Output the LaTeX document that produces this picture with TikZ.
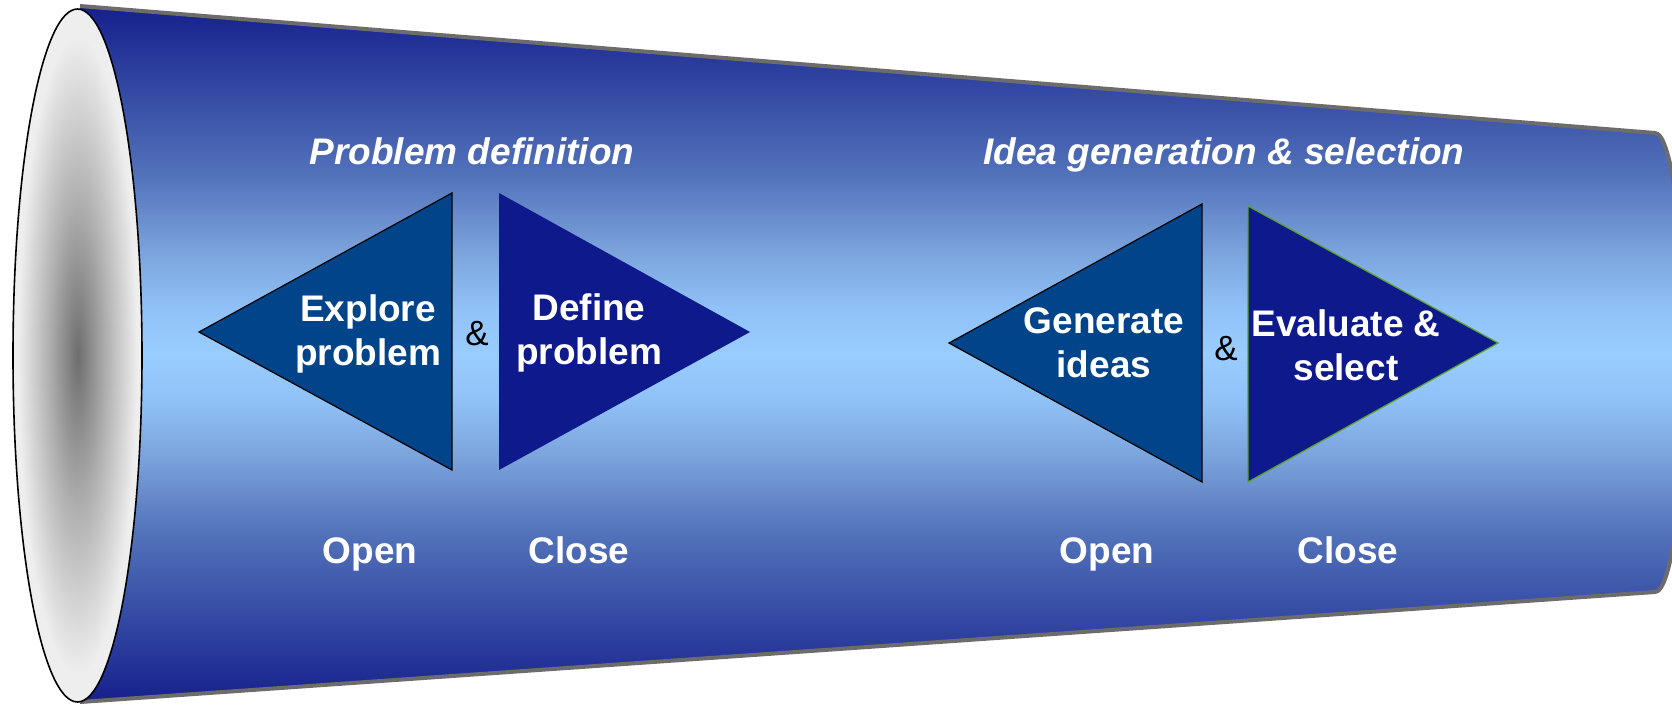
\documentclass[tikz,border=0pt]{standalone}
\usepackage{fontspec}
\setmainfont{Liberation Sans}
\definecolor{funnelnavy}{RGB}{22,32,141}
\definecolor{funnelmidA}{RGB}{82,114,186}
\definecolor{funnelmidB}{RGB}{123,163,220}
\definecolor{funnelmidC}{RGB}{144,194,247}
\definecolor{funnelsky}{RGB}{153,204,255}
\definecolor{openblue}{RGB}{2,68,138}
\definecolor{closeblue}{RGB}{14,26,140}
\definecolor{rimgray}{RGB}{108,108,108}
\definecolor{edgegreen}{RGB}{90,165,40}
\definecolor{discdark}{RGB}{110,110,110}
\definecolor{discmid}{RGB}{175,175,175}
\definecolor{disclight}{RGB}{238,238,238}
% vertical band: dark at both rims, light along the axis
\pgfdeclareverticalshading{funnelshade}{100bp}{%
  color(0bp)=(funnelnavy); color(25bp)=(funnelnavy);
  color(37.15bp)=(funnelmidA); color(42.6bp)=(funnelmidB);
  color(46.75bp)=(funnelmidC); color(50bp)=(funnelsky);
  color(53.25bp)=(funnelmidC); color(57.4bp)=(funnelmidB);
  color(62.85bp)=(funnelmidA); color(75bp)=(funnelnavy);
  color(100bp)=(funnelnavy)}
% grey hollow of the open end
\pgfdeclareradialshading{discshade}{\pgfpoint{0bp}{0bp}}{%
  color(0bp)=(discdark); color(11bp)=(discmid); color(23bp)=(disclight);
  color(25bp)=(disclight); color(50bp)=(disclight)}
\begin{document}
\begin{tikzpicture}[x=1pt,y=-1pt,
  label/.style={text=white,font=\fontsize{37}{44}\selectfont\bfseries,align=center,inner sep=0pt},
  tag/.style={label,anchor=base},
  heading/.style={text=white,font=\fontsize{37}{44}\selectfont\bfseries\itshape,inner sep=0pt,anchor=base},
  amp/.style={text=black,font=\fontsize{35}{40}\selectfont,inner sep=0pt},
  opentri/.style={fill=openblue,draw=black,line width=1.2pt},
  closetri/.style={fill=closeblue},
  rim/.style={draw=rimgray,line width=4pt,line join=round}]
\useasboundingbox (0,0) rectangle (1672,704);
\clip (0,0) rectangle (1672,704);

% funnel body
\shade[shading=funnelshade]
  (80,6) -- (1655,133) arc[start angle=-90,end angle=90,x radius=30,y radius=229.5]
  -- (80,702) -- cycle;
\draw[rim] (80,6) -- (1655,133) arc[start angle=-90,end angle=90,x radius=30,y radius=229.5]
  -- (80,702);

% open end of the funnel
\shade[shading=discshade] (77.5,355.5) ellipse[x radius=64.5,y radius=346.5];
\draw[black,line width=1.6pt] (77.5,355.5) ellipse[x radius=64.5,y radius=346.5];

% problem definition
\draw[opentri] (199,332) -- (452,193) -- (452,470) -- cycle;
\fill[closetri] (499,193) -- (750,332) -- (499,470) -- cycle;
\node[label] (explore) at (368,334) {Explore\\problem};
\node[label] (define) at (589,333) {Define\\problem};
\node[amp] (amp1) at (477,334) {\&};
\node[heading] (pdef) at (472,164.5) {Problem definition};
\node[tag] (open1) at (370,563) {Open};
\node[tag] (close1) at (579,563) {Close};

% idea generation and selection
\draw[opentri] (949,343) -- (1202,204) -- (1202,482) -- cycle;
\draw[closetri,draw=edgegreen,line width=1.2pt] (1248,206) -- (1498,343) -- (1248,482) -- cycle;
\node[label] (generate) at (1104,343) {Generate\\ideas};
\node[label] (evaluate) at (1346,345) {Evaluate \&\\select};
\node[amp] (amp2) at (1226,349) {\&};
\node[heading] (idea) at (1224,164.5) {Idea generation \& selection};
\node[tag] (open2) at (1107,563) {Open};
\node[tag] (close2) at (1348,563) {Close};
\end{tikzpicture}
\end{document}
